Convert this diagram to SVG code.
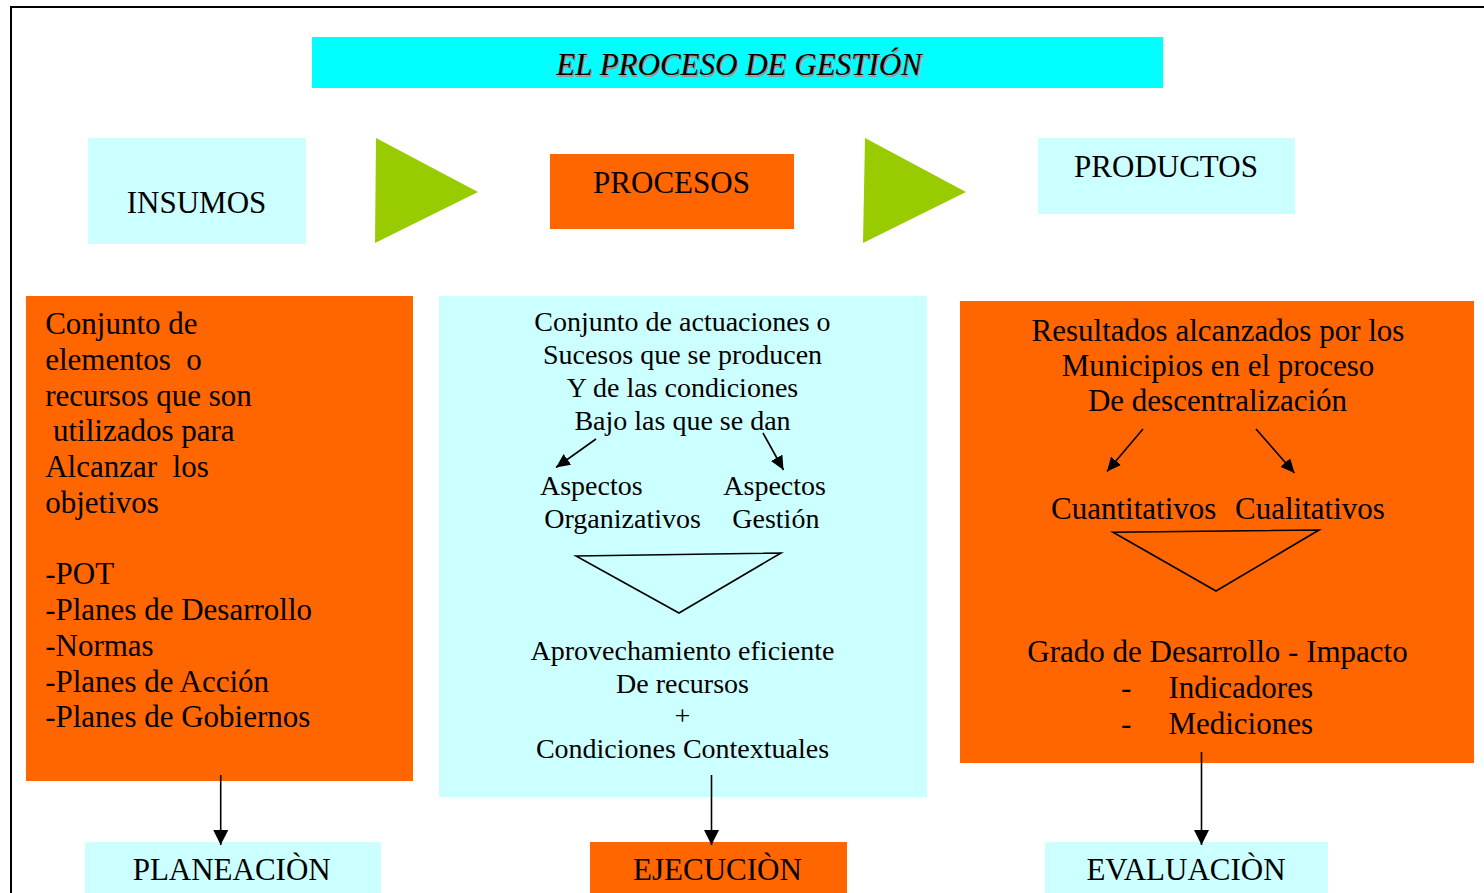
<svg xmlns="http://www.w3.org/2000/svg" width="1484" height="893" viewBox="0 0 1484 893">
<style>
text{font-family:"Liberation Serif","Times New Roman",serif;fill:#000}
.t31{font-size:31px}
.t28{font-size:28px}
.c{text-anchor:middle}
.cyan{fill:#CCFFFF}
.org{fill:#FF6600}
.grn{fill:#99CC00}
.ln{stroke:#000;stroke-width:1.6;fill:none}
.tri{stroke:#000;stroke-width:1.6;fill:none;stroke-linejoin:miter}
</style>
<defs>
<marker id="ah" markerUnits="userSpaceOnUse" markerWidth="16" markerHeight="16" refX="15" refY="7.5" orient="auto">
<path d="M0,0 L15,7.5 L0,15 z" fill="#000"/>
</marker>
<marker id="ahs" markerUnits="userSpaceOnUse" markerWidth="16" markerHeight="14" refX="14" refY="6.5" orient="auto">
<path d="M0,0 L14,6.5 L0,13 z" fill="#000"/>
</marker>
</defs>
<rect x="0" y="0" width="1484" height="893" fill="#fff"/>
<rect x="11" y="7" width="1500" height="900" fill="none" stroke="#000" stroke-width="2"/>

<g id="title">
<rect x="312" y="37" width="851" height="51" fill="#00FFFF"/>
<text x="740.5" y="76.5" class="t31 c" font-style="italic" style="fill:#999">EL PROCESO DE GESTIÓN</text>
<text x="739" y="75" class="t31 c" font-style="italic">EL PROCESO DE GESTIÓN</text>
</g>

<g id="insumos">
<rect x="88" y="138" width="218" height="106" class="cyan"/>
<text x="196.5" y="213" class="t31 c">INSUMOS</text>
</g>

<g id="flecha1">
<polygon points="376,138 478,192 375,243" class="grn"/>
</g>

<g id="procesos">
<rect x="550" y="154" width="244" height="75" class="org"/>
<text x="671.5" y="193" class="t31 c">PROCESOS</text>
</g>

<g id="flecha2">
<polygon points="865,138 966,192 863,243" class="grn"/>
</g>

<g id="productos">
<rect x="1038" y="138" width="257" height="76" class="cyan"/>
<text x="1166" y="177" class="t31 c">PRODUCTOS</text>
</g>

<g id="insumos-detalle">
<rect x="26" y="296" width="387" height="485" class="org"/>
<text class="t31" xml:space="preserve"><tspan x="45.2" y="334">Conjunto de</tspan><tspan x="45.2" y="369.7">elementos  o</tspan><tspan x="45.2" y="405.5">recursos que son</tspan><tspan x="45.2" y="441.2"> utilizados para</tspan><tspan x="45.2" y="477">Alcanzar  los</tspan><tspan x="45.2" y="512.5">objetivos</tspan><tspan x="45.2" y="584">-POT</tspan><tspan x="45.2" y="620.3">-Planes de Desarrollo</tspan><tspan x="45.2" y="656">-Normas</tspan><tspan x="45.2" y="692">-Planes de Acción</tspan><tspan x="45.2" y="727.3">-Planes de Gobiernos</tspan></text>
</g>

<g id="procesos-detalle">
<rect x="439" y="296" width="488" height="501" class="cyan"/>
<text class="t28 c"><tspan x="682.5" y="331">Conjunto de actuaciones o</tspan><tspan x="682.5" y="363.7">Sucesos que se producen</tspan><tspan x="682.5" y="397">Y de las condiciones</tspan><tspan x="682.5" y="429.5">Bajo las que se dan</tspan></text>
<text class="t28" x="540" y="495">Aspectos</text>
<text class="t28" x="544.3" y="528">Organizativos</text>
<text class="t28" x="723.3" y="495">Aspectos</text>
<text class="t28" x="732.3" y="528">Gestión</text>
<polygon points="576,556 781,553 679,613" class="tri"/>
<text class="t28 c"><tspan x="682.5" y="660">Aprovechamiento eficiente</tspan><tspan x="682.5" y="692.5">De recursos</tspan><tspan x="682.5" y="724.5">+</tspan><tspan x="682.5" y="757.5">Condiciones Contextuales</tspan></text>
</g>

<g id="productos-detalle">
<rect x="960" y="301" width="514" height="462" class="org"/>
<text class="t31 c"><tspan x="1218" y="340.5">Resultados alcanzados por los</tspan><tspan x="1218" y="375.5">Municipios en el proceso</tspan><tspan x="1217.5" y="411">De descentralización</tspan></text>
<text class="t31" x="1051" y="518.5">Cuantitativos</text>
<text class="t31" x="1235" y="518.5">Cualitativos</text>
<polygon points="1113,532.3 1319,530 1216,591" class="tri"/>
<text class="t31 c" x="1217.5" y="662">Grado de Desarrollo - Impacto</text>
<text class="t31" x="1121" y="698">-</text>
<text class="t31" x="1168.4" y="698">Indicadores</text>
<text class="t31" x="1121" y="734">-</text>
<text class="t31" x="1168.4" y="734">Mediciones</text>
</g>

<g id="planeacion">
<rect x="85" y="842" width="296" height="51" class="cyan"/>
<text x="231.7" y="880" class="t31 c">PLANEACIÒN</text>
</g>

<g id="ejecucion">
<rect x="590" y="842" width="257" height="51" class="org"/>
<text x="717.5" y="880" class="t31 c">EJECUCIÒN</text>
</g>

<g id="evaluacion">
<rect x="1045" y="842" width="283" height="51" class="cyan"/>
<text x="1186" y="880" class="t31 c">EVALUACIÒN</text>
</g>

<g id="conectores">
<line x1="596" y1="439" x2="556" y2="467.5" class="ln" marker-end="url(#ahs)"/>
<line x1="763" y1="433" x2="783.5" y2="470" class="ln" marker-end="url(#ahs)"/>
<line x1="1143" y1="429" x2="1107" y2="471.5" class="ln" marker-end="url(#ahs)"/>
<line x1="1256" y1="429" x2="1294.5" y2="473" class="ln" marker-end="url(#ahs)"/>
<line x1="220.7" y1="775" x2="220.7" y2="845" class="ln" marker-end="url(#ah)"/>
<line x1="711.5" y1="775" x2="711.5" y2="845" class="ln" marker-end="url(#ah)"/>
<line x1="1201.5" y1="752" x2="1201.5" y2="845" class="ln" marker-end="url(#ah)"/>
</g>
</svg>
